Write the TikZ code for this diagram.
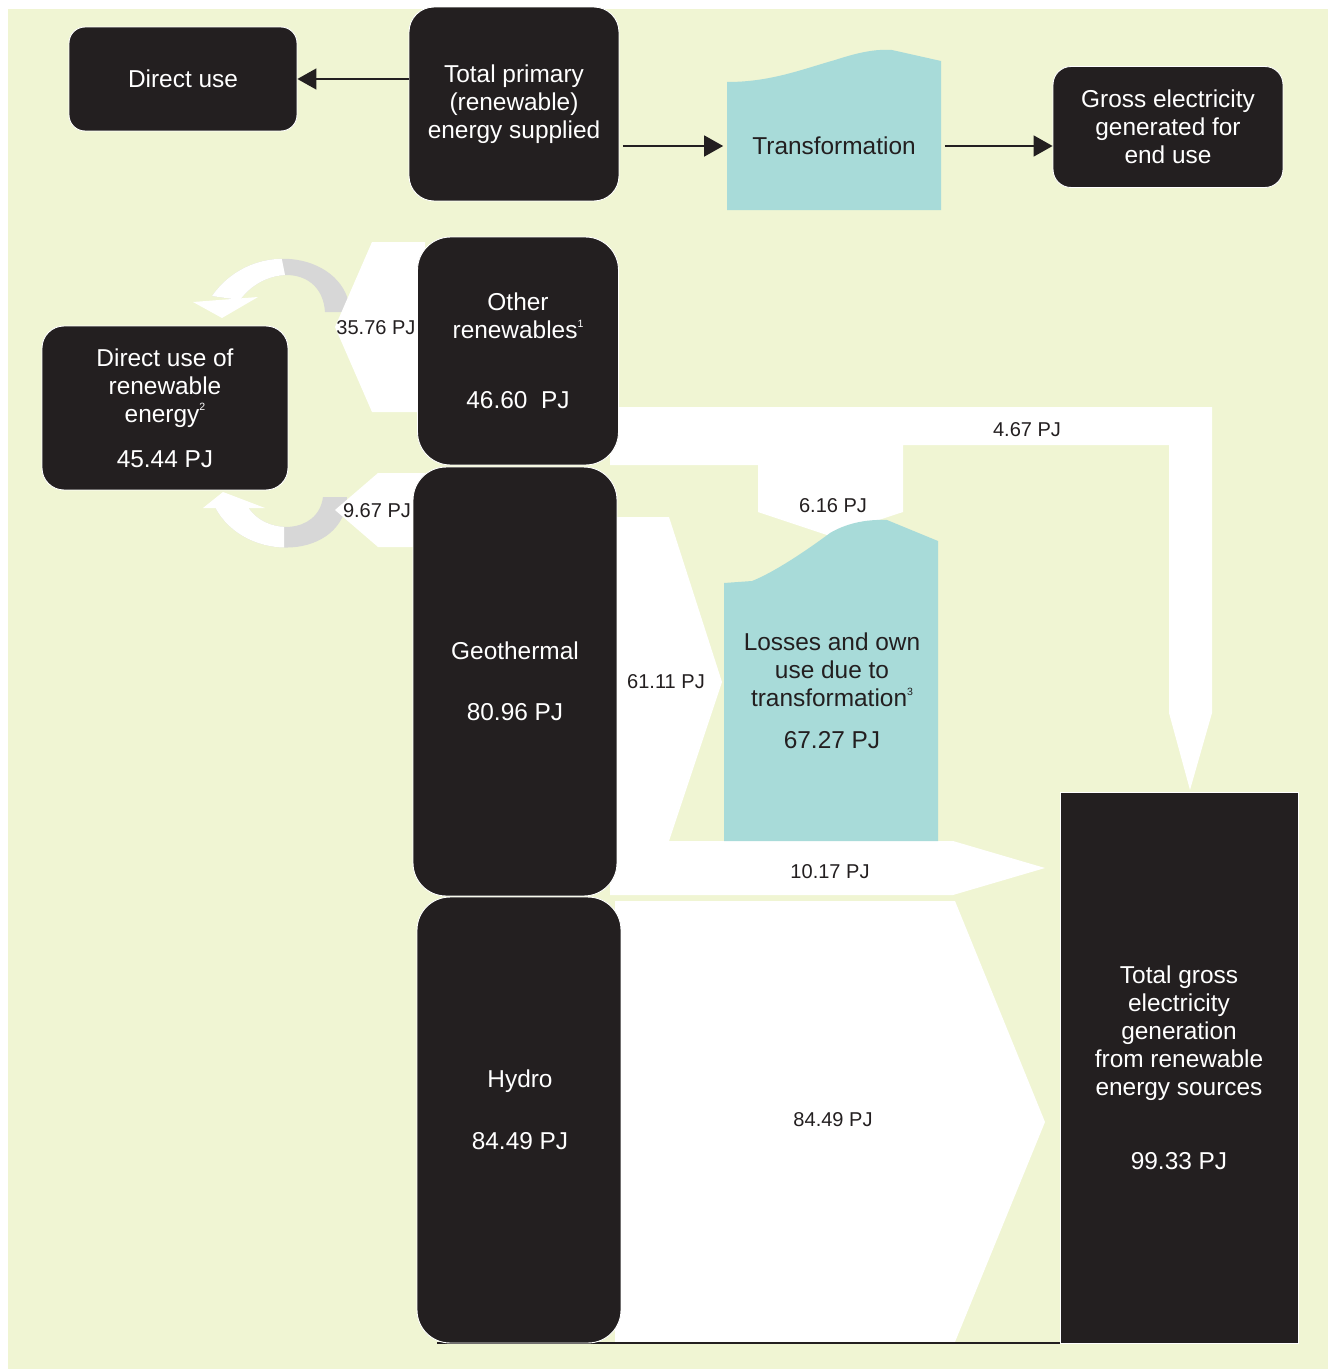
\documentclass[tikz,border=0pt]{standalone}
\usepackage{fontspec}
\setmainfont{Liberation Sans}
\usetikzlibrary{arrows.meta}

\definecolor{bggreen}{RGB}{240,245,211}
\definecolor{boxblack}{RGB}{35,31,32}
\definecolor{transcyan}{RGB}{168,219,217}
\definecolor{arcgray}{RGB}{215,215,215}
\definecolor{labelblack}{RGB}{35,31,32}

\newcommand{\boxtextfont}{\fontsize{13.9}{16}\selectfont}
\newcommand{\flowtextfont}{\fontsize{11.4}{13}\selectfont}
\newcommand{\supnote}[1]{\raisebox{0.9ex}{\fontsize{6}{6}\selectfont #1}}

\tikzset{
  blackbox/.style={fill=boxblack, draw=white, line width=0.5pt, text=white,
    align=center, inner sep=0pt, font=\boxtextfont},
  boxlabel/.style={text=white, align=center, inner sep=0pt, font=\boxtextfont},
  cyanlabel/.style={text=labelblack, align=center, inner sep=0pt, font=\boxtextfont},
  flowlabel/.style={text=labelblack, inner sep=1pt, font=\flowtextfont},
  flow/.style={fill=white},
  twist/.style={fill=arcgray},
  linkarrow/.style={draw=labelblack, line width=0.85pt,
    -{Triangle[length=0.38cm,width=0.42cm]}}
}

\begin{document}
\begin{tikzpicture}[x=0.02cm, y=-0.02cm]
	% Page and background
	\useasboundingbox (0,0) rectangle (1328,1369);
	\fill[white] (0,0) rectangle (1328,1369);
	\fill[bggreen] (8,9) rectangle (1328,1369);

	% Legend row
	\node[blackbox, rounded corners=0.32cm, minimum width=4.56cm, minimum height=2.08cm] (direct) at (183,79) {Direct use};
	\node[blackbox, rounded corners=0.5cm, minimum width=4.2cm, minimum height=3.88cm] (primary) at (514,104) {Total primary\\(renewable)\\energy supplied};
	\fill[transcyan] (727,210) -- (727,82) .. controls (770,82) and (800,70) .. (835,60)
		.. controls (860,52) and (875,49) .. (892,50) -- (941,61) -- (941,210) -- cycle;
	\node[cyanlabel, minimum width=4.28cm, minimum height=2.56cm] (trans) at (834,146) {Transformation};
	\node[blackbox, rounded corners=0.36cm, minimum width=4.6cm, minimum height=2.42cm] (gross) at (1168,127) {Gross electricity\\generated for\\end use};

	\draw[linkarrow] (primary.west |- direct.east) -- (direct.east);
	\draw[linkarrow, shorten <=2pt, shorten >=2pt] (primary.east |- trans.west) -- (trans.west);
	\draw[linkarrow, shorten <=2pt] (trans.east) -- (trans.east -| gross.west);

	% Twisted arrows into direct use
	\fill[twist] (350,312) .. controls (348,255) and (255,235) .. (212,296) -- (240,300)
		.. controls (265,265) and (322,265) .. (325,312) -- cycle;
	\begin{scope}
		\clip (150,230) -- (276,230) -- (292,310) -- (150,310) -- cycle;
		\fill[white] (350,312) .. controls (348,255) and (255,235) .. (212,296) -- (240,300)
			.. controls (265,265) and (322,265) .. (325,312) -- cycle;
	\end{scope}
	\fill[white] (193,302) -- (258,297) -- (222,318) -- cycle;

	\fill[twist] (347,497) .. controls (345,560) and (245,565) .. (215,507) -- (248,507)
		.. controls (265,535) and (318,535) .. (323,497) -- cycle;
	\begin{scope}
		\clip (150,480) rectangle (284,570);
		\fill[white] (347,497) .. controls (345,560) and (245,565) .. (215,507) -- (248,507)
			.. controls (265,535) and (318,535) .. (323,497) -- cycle;
	\end{scope}
	\fill[white] (203,508) -- (265,508) -- (223,492) -- cycle;

	% Flows
	\fill[flow] (372,242) -- (425,242) -- (425,412) -- (372,412) -- (335,327) -- cycle;
	\fill[flow] (378,473) -- (425,473) -- (425,547) -- (378,547) -- (335,510) -- cycle;
	\fill[flow] (610,407) -- (1212,407) -- (1212,713) -- (1190,790) -- (1169,713) -- (1169,445)
		-- (903,445) -- (903,512) -- (830,536) -- (758,512) -- (758,465) -- (610,465) -- cycle;
	\fill[flow] (610,517) -- (669,517) -- (722,682) -- (669,841) -- (610,841) -- cycle;
	\fill[flow] (610,841) -- (953,841) -- (1045,868) -- (953,895) -- (610,895) -- cycle;
	\fill[flow] (615,901) -- (955,901) -- (1045,1122) -- (955,1342) -- (615,1342) -- cycle;
	\draw[boxblack, line width=1.1pt] (437,1343) -- (1060,1343);

	% Losses
	\fill[transcyan] (724,841) -- (724,583) -- (752,581) .. controls (775,572) and (810,548) .. (830,533)
		.. controls (845,524) and (865,519) .. (887,520) -- (938,541) -- (938,841) -- cycle;
	\node[cyanlabel] (losses) at (832,691) {Losses and own\\use due to\\transformation\supnote{3}\\[8pt]67.27 PJ};

	% Sources
	\node[blackbox, rounded corners=0.66cm, minimum width=4.02cm, minimum height=4.56cm] (other) at (518,351) {Other\\renewables\supnote{1}\\[24pt]46.60\ \ PJ};
	\node[blackbox, rounded corners=0.66cm, minimum width=4.08cm, minimum height=8.58cm] (geo) at (515,681.5) {Geothermal\\[18.8pt]80.96 PJ};
	\node[blackbox, rounded corners=0.66cm, minimum width=4.08cm, minimum height=8.92cm] (hydro) at (519,1120) {};
	\node[boxlabel] (hydro-lbl) at (520,1110) {Hydro\\[19pt]84.49 PJ};

	% Uses
	\node[blackbox, rounded corners=0.44cm, minimum width=4.92cm, minimum height=3.28cm] (duse) at (165,408) {Direct use of\\renewable\\energy\supnote{2}\\[9.5pt]45.44 PJ};
	\node[blackbox, rounded corners=0pt, minimum width=4.76cm, minimum height=11.02cm] (totalgen) at (1179,1067.5) {Total gross\\electricity\\generation\\from renewable\\energy sources\\[26pt]99.33 PJ};

	% Flow labels
	\node[flowlabel] (l3576) at (376,328) {35.76 PJ};
	\node[flowlabel] (l967) at (377,511) {9.67 PJ};
	\node[flowlabel] (l467) at (1027,430) {4.67 PJ};
	\node[flowlabel] (l616) at (833,506) {6.16 PJ};
	\node[flowlabel] (l6111) at (666,682) {61.11 PJ};
	\node[flowlabel] (l1017) at (830,872) {10.17 PJ};
	\node[flowlabel] (l8449) at (833,1120) {84.49 PJ};

\end{tikzpicture}
\end{document}
